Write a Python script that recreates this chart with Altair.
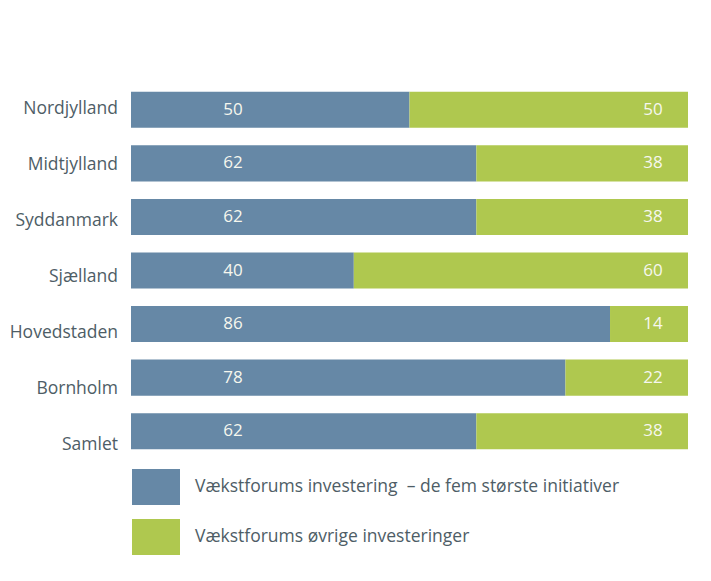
import altair as alt
import pandas as pd

regions = ["Nordjylland", "Midtjylland", "Syddanmark", "Sjælland", "Hovedstaden", "Bornholm", "Samlet"]
top5 = [50, 62, 62, 40, 86, 78, 62]
other = [50, 38, 38, 60, 14, 22, 38]
series = ["\u00a0Vækstforums investering\u00a0\u00a0– de fem største initiativer", "Vækstforums øvrige investeringer"]
colors = ["#6688a6", "#afc84f"]

rows = []
for i, r in enumerate(regions):
    rows.append({"region": r, "series": series[0], "value": top5[i], "ord": 0})
    rows.append({"region": r, "series": series[1], "value": other[i], "ord": 1})
df = pd.DataFrame(rows)

FONT = "Open Sans"
TXT = "#4e5d66"

ybar = alt.Y("region:N", sort=regions, axis=None,
             scale=alt.Scale(paddingInner=0.327, paddingOuter=0.1635))

bars = alt.Chart(df).mark_bar(cornerRadius=0).encode(
    x=alt.X("value:Q", stack="zero", axis=None, scale=alt.Scale(domain=[0, 100], nice=False)),
    y=ybar,
    color=alt.Color("series:N", sort=series,
                    scale=alt.Scale(domain=series, range=colors),
                    legend=alt.Legend(
                        title=None, orient="none", legendX=1, legendY=379,
                        direction="vertical",
                        symbolType="M-1,-0.75L1,-0.75L1,0.75L-1,0.75Z",
                        symbolSize=2304, symbolStrokeWidth=0, symbolOpacity=1,
                        clipHeight=50, rowPadding=0, padding=0,
                        labelFont=FONT, labelFontSize=17.5, labelColor=TXT,
                        labelOffset=15, labelLimit=600)),
    order=alt.Order("ord:Q"),
)

lab_blue = alt.Chart(df).transform_filter(alt.datum.ord == 0).mark_text(
    font=FONT, fontSize=17, color="#f6f7ee", align="center", baseline="middle", dx=102
).encode(x=alt.datum(0), y=ybar, text="value:Q")

lab_green = alt.Chart(df).transform_filter(alt.datum.ord == 1).mark_text(
    font=FONT, fontSize=17, color="#f6f7ee", align="center", baseline="middle", dx=-35
).encode(x=alt.datum(100), y=ybar, text="value:Q")

cats = alt.Chart(pd.DataFrame({"region": regions})).mark_text(
    font=FONT, fontSize=17.5, color=TXT, align="right", baseline="middle", dx=-13
).encode(
    x=alt.datum(0),
    y=alt.Y("region:N", sort=regions, axis=None,
            scale=alt.Scale(type="point", padding=0.348, align=0.66)),
    text="region:N",
)

main = alt.layer(bars, lab_blue, lab_green)
chart = alt.layer(main, cats).resolve_scale(y="independent").properties(
    width=557, height=375,
    autosize=alt.AutoSizeParams(type="none"),
    padding={"left": 123, "top": 75, "right": 15, "bottom": 115},
    background="white",
).configure_view(stroke=None)

chart.save("out.html", embed_options={"renderer": "svg", "actions": False})
